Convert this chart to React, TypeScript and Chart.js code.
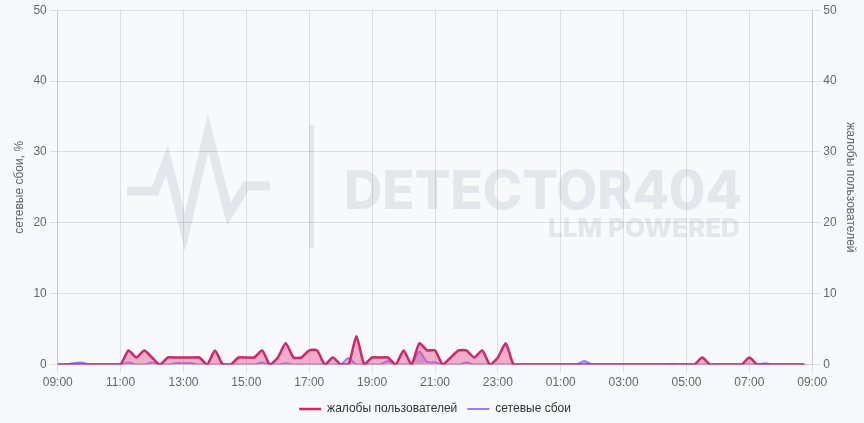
import React, { useEffect, useRef } from "react";
import { Chart, registerables } from "chart.js";

Chart.register(...registerables);

// ---- data (15-minute samples starting 09:00) ----
const START_HOUR = 9;
const STEP_MIN = 15;
const POINT_COUNT = 97; // 09:00 .. 09:00 next day

const timeLabels: string[] = Array.from({ length: POINT_COUNT }, (_, i) => {
  const m = (START_HOUR * 60 + i * STEP_MIN) % 1440;
  return `${String(Math.floor(m / 60)).padStart(2, "0")}:${String(m % 60).padStart(2, "0")}`;
});

const seriesNames = ["жалобы пользователей", "сетевые сбои"];

// user complaints (right axis)
const complaints = [
  0, 0, 0, 0, 0, 0, 0, 0, // 09:00-10:45
  0, 2, 1, 2, 1, 0, 1, 1, // 11:00-12:45
  1, 1, 1, 0, 2, 0, 0, 1, // 13:00-14:45
  1, 1, 2, 0, 1, 3, 1, 1, // 15:00-16:45
  2, 2, 0, 1, 0, 0, 4, 0, // 17:00-18:45
  1, 1, 1, 0, 2, 0, 3, 2, // 19:00-20:45
  2, 0, 1, 2, 2, 1, 2, 0, // 21:00-22:45
  1, 3, 0, 0, 0, 0, 0, 0, // 23:00-00:45
  0, 0, 0, 0, 0, 0, 0, 0, // 01:00-02:45
  0, 0, 0, 0, 0, 0, 0, 0, // 03:00-04:45
  0, 0, 1, 0, 0, 0, 0, 0, // 05:00-06:45
  1, 0, 0, 0, 0, 0, 0, 0, // 07:00-08:45
];

// network failures, % (left axis)
const networkFailures = [
  0, 0, 0.2, 0.3, 0, 0, 0, 0, // 09:00-10:45
  0, 0.3, 0, 0, 0.3, 0, 0, 0.2, // 11:00-12:45
  0.2, 0.2, 0, 0, 0, 0, 0, 0, // 13:00-14:45
  0, 0, 0.3, 0, 0, 0.2, 0, 0, // 15:00-16:45
  0, 0, 0, 0, 0, 0.9, 0, 0, // 17:00-18:45
  0, 0, 0.5, 0, 0, 0, 1.8, 0.4, // 19:00-20:45
  0.3, 0, 0, 0, 0.3, 0, 0, 0, // 21:00-22:45
  0, 0, 0, 0, 0, 0, 0, 0, // 23:00-00:45
  0, 0, 0, 0.5, 0, 0, 0, 0, // 01:00-02:45
  0, 0, 0, 0, 0, 0, 0.1, 0, // 03:00-04:45
  0, 0, 0, 0, 0, 0, 0, 0, // 05:00-06:45
  0, 0, 0.2, 0, 0, 0, 0, 0, // 07:00-08:45
];

const Y_MIN = 0;
const Y_MAX = 50;
const Y_STEP = 10;
const X_TICK_EVERY = 8; // every 2 hours

const FONT = "'Liberation Sans', Arial, sans-serif";

const watermarkPlugin = {
  id: "watermark",
  beforeDraw(chart: any) {
    const ctx = chart.ctx as CanvasRenderingContext2D;
    const col = "#e3e6ea";
    ctx.save();
    ctx.strokeStyle = col;
    ctx.lineWidth = 9;
    ctx.lineJoin = "miter";
    ctx.lineCap = "butt";
    ctx.beginPath();
    const pts = [
      [127, 191],
      [155, 191],
      [167, 160],
      [185, 232],
      [208, 133],
      [229, 214],
      [246, 186],
      [270, 186],
    ];
    pts.forEach(([x, y], i) => (i ? ctx.lineTo(x, y) : ctx.moveTo(x, y)));
    ctx.stroke();
    ctx.fillStyle = col;
    ctx.fillRect(309, 125, 5, 123);
    ctx.textAlign = "right";
    ctx.textBaseline = "alphabetic";
    const fit = (txt: string, w: number, weight: string) => {
      ctx.font = `${weight} 100px Inter, 'Open Sans', sans-serif`;
      const mw = ctx.measureText(txt).width;
      return (100 * w) / mw;
    };
    let s = fit("DETECTOR404", 398, "800");
    ctx.font = `800 ${s}px Inter, 'Open Sans', sans-serif`;
    ctx.fillText("DETECTOR404", 742, 209);
    s = fit("LLM POWERED", 192, "800");
    ctx.font = `800 ${s}px Inter, 'Open Sans', sans-serif`;
    ctx.fillText("LLM POWERED", 740, 237);
    ctx.restore();
  },
};

export default function App() {
  const canvasRef = useRef<HTMLCanvasElement | null>(null);

  useEffect(() => {
    document.body.style.margin = "0";
    document.body.style.background = "#f8f9fb";
    const canvas = canvasRef.current;
    if (!canvas) return;
    const chart = new Chart(canvas, {
      type: "line",
      data: {
        labels: timeLabels,
        datasets: [
          {
            label: seriesNames[0],
            data: complaints,
            yAxisID: "y1",
            borderColor: "#d0256a",
            backgroundColor: "rgba(233, 80, 140, 0.45)",
            borderWidth: 2.5,
            fill: "origin",
            pointRadius: 0,
            tension: 0.2,
          },
          {
            label: seriesNames[1],
            data: networkFailures,
            yAxisID: "y",
            borderColor: "#9b7cf2",
            backgroundColor: "rgba(155, 124, 242, 0.45)",
            borderWidth: 2,
            fill: "origin",
            pointRadius: 0,
            tension: 0.3,
          },
        ],
      },
      options: {
        animation: false,
        responsive: true,
        maintainAspectRatio: false,
        layout: { padding: { top: 0, left: 8, right: 2, bottom: -2 } },
        interaction: { mode: "index", intersect: false },
        plugins: {
          legend: {
            position: "bottom",
            labels: {
              usePointStyle: true,
              pointStyle: "line",
              pointStyleWidth: 22,
              color: "#333",
              font: { family: FONT, size: 12 },
              padding: 10,
            },
          },
          tooltip: { enabled: false },
        },
        scales: {
          x: {
            type: "category",
            offset: false,
            grid: { color: "rgba(0,0,0,0.1)" },
            ticks: {
              autoSkip: false,
              maxRotation: 0,
              color: "#666",
              font: { family: FONT, size: 12 },
              callback: (_v: any, i: number) => (i % X_TICK_EVERY === 0 ? timeLabels[i] : null),
            },
          },
          y: {
            position: "left",
            min: Y_MIN,
            max: Y_MAX,
            ticks: { stepSize: Y_STEP, color: "#666", font: { family: FONT, size: 12 } },
            grid: { color: "rgba(0,0,0,0.1)" },
            title: {
              display: true,
              text: "сетевые сбои, %",
              color: "#666",
              font: { family: FONT, size: 12 },
            },
          },
          y1: {
            position: "right",
            min: Y_MIN,
            max: Y_MAX,
            ticks: { stepSize: Y_STEP, color: "#666", font: { family: FONT, size: 12 } },
            grid: { drawOnChartArea: false, color: "rgba(0,0,0,0.1)" },
            title: {
              display: true,
              text: "жалобы пользователей",
              color: "#666",
              font: { family: FONT, size: 12 },
            },
          },
        },
      },
      plugins: [watermarkPlugin],
    } as any);
    return () => chart.destroy();
  }, []);

  return (
    <div style={{ width: 864, height: 423, position: "relative", background: "#f8f9fb" }}>
      <canvas ref={canvasRef} />
    </div>
  );
}
